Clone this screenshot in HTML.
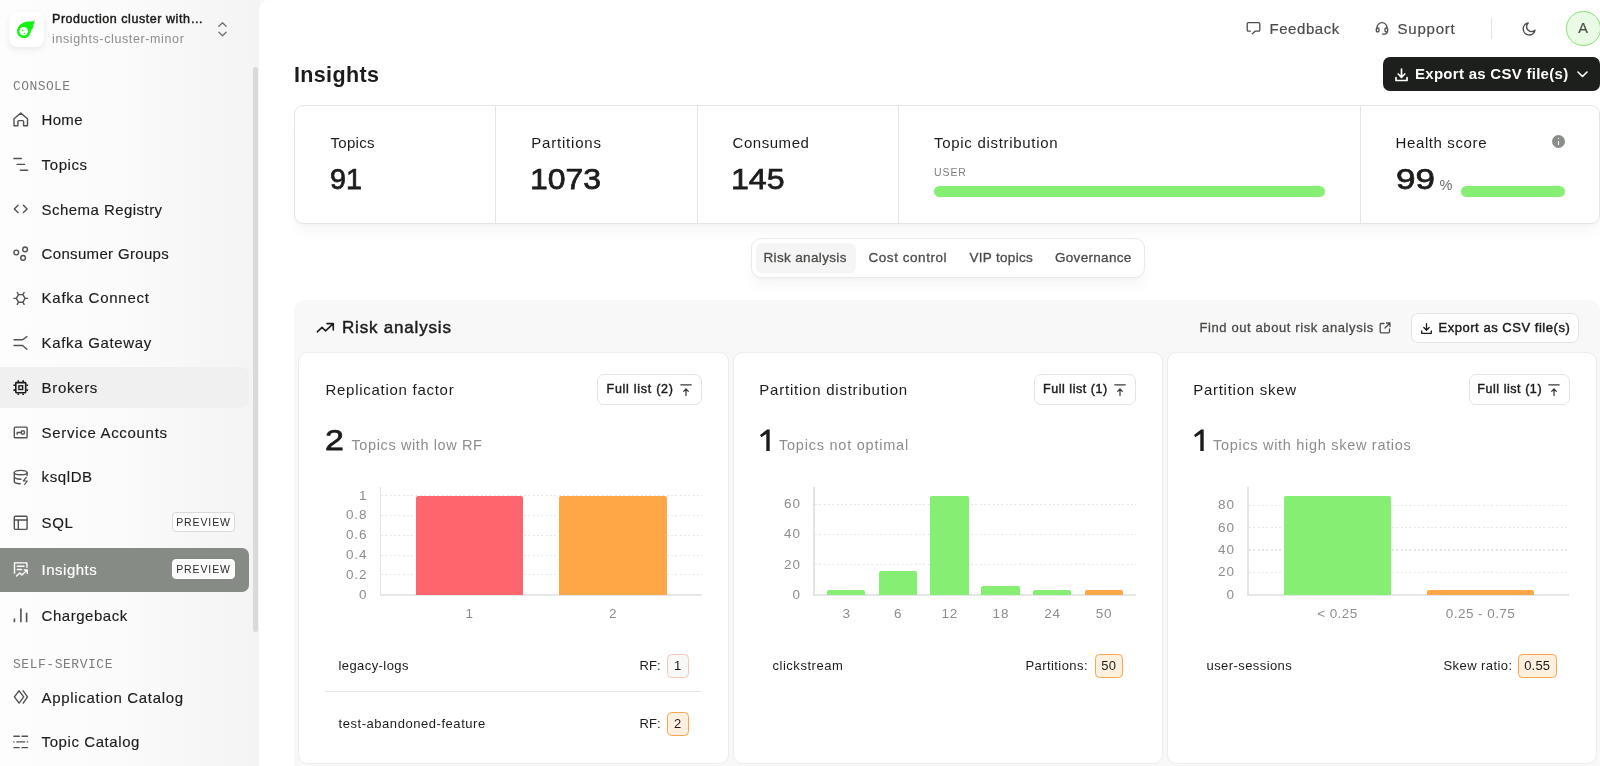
<!DOCTYPE html>
<html lang="en">
<head>
<meta charset="utf-8">
<title>Insights</title>
<style>
*{box-sizing:border-box;margin:0;padding:0}
html,body{width:1600px;height:766px;overflow:hidden}
body{font-family:"Liberation Sans",sans-serif;color:#1b1d1a;background:#f7f8f7;position:relative;-webkit-font-smoothing:antialiased}
.abs{position:absolute}
.t{position:absolute;white-space:nowrap;line-height:1}
svg{display:block;overflow:visible}
/* ---------- sidebar ---------- */
#side{position:absolute;left:0;top:0;width:260px;height:766px;background:linear-gradient(90deg,#fdfdfd 0%,#fbfbfb 45%,#f5f6f5 80%,#f3f4f3 100%)}
#sb{position:absolute;left:253px;top:67px;width:5px;height:565px;background:#d9dad9;border-radius:3px}
.nav{position:absolute;left:41.600px;-webkit-text-stroke:.15px;font-size:15px;letter-spacing:.35px;color:#1b1d1a;white-space:nowrap;line-height:1}
.ico{position:absolute;left:12px;width:17px;height:17px}
.ico svg{width:17px;height:17px;fill:none;stroke:#3a3d39;stroke-width:1.5;stroke-linecap:round;stroke-linejoin:round}
.sec{position:absolute;left:13px;font-family:"Liberation Mono",monospace;font-size:13px;letter-spacing:.42px;color:#7a7d79;line-height:1;white-space:nowrap}
.badge{position:absolute;left:172px;width:63px;height:20px;border:1px solid #d9dbd8;border-radius:4px;background:#fcfcfc;font-size:10.5px;letter-spacing:.9px;color:#2a2c29;text-align:center;line-height:18px}
/* ---------- main ---------- */
#main{position:absolute;left:259px;top:0;width:1341px;height:766px;background:#fff;border-top-left-radius:10px}

.hd{position:absolute;font-size:15px;color:#4a4d49;letter-spacing:.55px;white-space:nowrap;line-height:1;-webkit-text-stroke:.2px #4a4d49}
.si{fill:none;stroke:#4a4d49;stroke-width:1.4;stroke-linecap:round;stroke-linejoin:round;position:absolute}
#stats{position:absolute;left:294.400px;top:105px;width:1305.600px;height:118.500px;background:#fff;border:1px solid #e4e6e4;border-radius:9px;box-shadow:0 10px 16px -3px rgba(0,0,0,.04),0 3px 5px -1px rgba(0,0,0,.025)}
.vd{position:absolute;top:105px;width:1px;height:118px;background:#e4e6e4}
.sl{position:absolute;top:134.700px;font-size:15px;letter-spacing:.3px;color:#1b1d1a;white-space:nowrap;line-height:1}
.sn{position:absolute;top:164.200px;font-size:30px;letter-spacing:0;transform-origin:0 50%;color:#1b1d1a;white-space:nowrap;line-height:1;-webkit-text-stroke:.75px #1b1d1a}
.gbar{position:absolute;height:11px;border-radius:6px;background:#86ee72}
#tabs{position:absolute;left:750.500px;top:237.500px;width:394.500px;height:40.500px;background:#fff;border:1px solid #e9eae9;border-radius:10px;box-shadow:0 10px 16px -3px rgba(0,0,0,.04),0 3px 5px -1px rgba(0,0,0,.025)}
.tab{position:absolute;top:251px;font-size:13.500px;color:#4a4d49;white-space:nowrap;line-height:1;-webkit-text-stroke:.3px #4a4d49}

#panel{position:absolute;left:294px;top:300px;width:1306px;height:480px;background:#f7f8f7;border-radius:11px}
.card{position:absolute;top:352px;height:412px;background:#fff;border:1px solid #ebedec;border-radius:9.500px}
.ct{position:absolute;top:381.800px;font-size:15px;letter-spacing:.3px;color:#1b1d1a;white-space:nowrap;line-height:1}
.big{position:absolute;top:425px;font-size:30px;transform-origin:0 50%;color:#1b1d1a;white-space:nowrap;line-height:1;-webkit-text-stroke:.75px #1b1d1a}
.sub{position:absolute;top:438px;font-size:14.500px;letter-spacing:.35px;color:#8b8e8a;white-space:nowrap;line-height:1}
.btn{position:absolute;top:374px;height:30.500px;background:#fff;border:1px solid #e2e4e2;border-radius:7px}
.bt{position:absolute;font-size:12.500px;color:#1b1d1a;white-space:nowrap;line-height:1;-webkit-text-stroke:.45px #1b1d1a;letter-spacing:.3px}
.ax{position:absolute;font-size:13.500px;letter-spacing:.9px;color:#8b8e8a;white-space:nowrap;line-height:1}
.ay{text-align:right;width:40px;margin-left:1.400px;margin-top:-.5px}
.axc{text-align:center;width:100px;margin-left:.45px}
.grid{position:absolute;height:1.200px;background:repeating-linear-gradient(90deg,#e6e8e6 0 2px,transparent 2px 4.330px)}
.yax{position:absolute;width:1.500px;background:#e3e4e3}
.xax{position:absolute;height:2px;background:#e6e8e7}
.bar{position:absolute;border-radius:2px 2px 0 0}
.li{position:absolute;font-size:13px;letter-spacing:.42px;color:#1b1d1a;white-space:nowrap;line-height:1}
.chip{position:absolute;height:23.600px;border-radius:4.500px;border:1px solid #fba54c;background:#feefdf;font-size:13px;color:#1b1d1a;text-align:center;line-height:21.600px;letter-spacing:.2px}
</style>
</head>
<body><div id="wrap" style="position:absolute;left:0;top:0;width:1600px;height:766px;will-change:transform">
<div id="side">
  <div class="abs" style="left:9px;top:11.500px;width:35px;height:35px;background:#fff;border-radius:8px;box-shadow:0 3px 6px rgba(0,0,0,.07),0 0 1px rgba(0,0,0,.05)"></div>
  <div class="t" style="left:52px;top:13.300px;font-size:12.500px;letter-spacing:.55px;color:#1b1d1a;-webkit-text-stroke:.45px #1b1d1a">Production cluster with…</div>
  <div class="t" style="left:52px;top:33.200px;font-size:12.500px;letter-spacing:.62px;color:#8b8e8a">insights-cluster-minor</div>
  <div class="sec" style="top:79.600px">CONSOLE</div>

  <!-- logo comet -->
  <svg class="abs" style="left:9px;top:11px;width:36px;height:36px" viewBox="9 11 36 36"><path d="M34.900 20.500C32.200 21.800 28.500 21.100 25.300 22.100 20.800 23.500 17 26.800 17.100 31.600 17.200 35.600 20.400 38.100 24 38.100 27.800 38.100 30.500 35.200 30.800 31.200 31.300 30.300 32.300 28.900 33.200 27.500 33.300 26.600 33.300 25.700 33.500 24.400 34.100 22.600 34.900 20.500Z" fill="#12f312"/><circle cx="23.700" cy="31.200" r="4.250" fill="#fff"/><path d="M21.900 29.400l1.900.9-1.700 1z" fill="#12f312"/><circle cx="24.400" cy="33.400" r=".6" fill="#12f312"/></svg>
  <svg class="abs" style="left:210px;top:15px;width:24px;height:28px;fill:none;stroke:#6e716d;stroke-width:1.300;stroke-linecap:round;stroke-linejoin:round" viewBox="210 15 24 28"><path d="M218.900 26.300L222.500 22.800 226.100 26.300M218.900 32.200L222.500 35.700 226.100 32.200"/></svg>
  <div class="abs" style="left:0;top:367px;width:249px;height:41px;background:#eff0ef;border-radius:0 8px 8px 0"></div>
  <div class="abs" style="left:0;top:548px;width:248.600px;height:43.500px;background:#868b85;border-radius:0 7px 7px 0"></div>
  <div class="nav" style="top:112.02px;letter-spacing:0.3px;color:#1b1d1a">Home</div>
  <div class="nav" style="top:156.77px;letter-spacing:0.6px;color:#1b1d1a">Topics</div>
  <div class="nav" style="top:201.57px;letter-spacing:0.45px;color:#1b1d1a">Schema Registry</div>
  <div class="nav" style="top:246.17px;letter-spacing:0.33px;color:#1b1d1a">Consumer Groups</div>
  <div class="nav" style="top:290.47px;letter-spacing:0.74px;color:#1b1d1a">Kafka Connect</div>
  <div class="nav" style="top:335.17px;letter-spacing:0.67px;color:#1b1d1a">Kafka Gateway</div>
  <div class="nav" style="top:380.27px;letter-spacing:0.67px;color:#1b1d1a">Brokers</div>
  <div class="nav" style="top:424.87px;letter-spacing:0.69px;color:#1b1d1a">Service Accounts</div>
  <div class="nav" style="top:469.37px;letter-spacing:0.6px;color:#1b1d1a">ksqlDB</div>
  <div class="nav" style="top:515.37px;letter-spacing:0.6px;color:#1b1d1a">SQL</div>
  <div class="nav" style="top:562.07px;letter-spacing:0.5px;color:#fff">Insights</div>
  <div class="nav" style="top:607.97px;letter-spacing:0.52px;color:#1b1d1a">Chargeback</div>
  <div class="nav" style="top:689.82px;letter-spacing:0.68px;color:#1b1d1a">Application Catalog</div>
  <div class="nav" style="top:733.82px;letter-spacing:0.58px;color:#1b1d1a">Topic Catalog</div>
  <div class="badge" style="top:512.100px">PREVIEW</div>
  <div class="badge" style="top:559.100px;border-color:#fff;background:#fbfbfb">PREVIEW</div>
  <div class="sec" style="top:657.700px;letter-spacing:.53px">SELF-SERVICE</div>
  <svg class="abs" style="left:0;top:100px;width:60px;height:666px;fill:none;stroke:#50534f;stroke-width:1.400;stroke-linecap:round;stroke-linejoin:round" viewBox="0 100 60 666">
    <!-- home -->
    <path d="M17.900 125.800H14V118.800L20.750 113.100 27.500 118.800V125.800H23.600V121.600a1 1 0 0 0-1-1H18.900a1 1 0 0 0-1 1Z"/>
    <!-- topics -->
    <path d="M13.900 158.500h7.400M17.200 164.400h7.300M20.400 170.200h7.200"/>
    <!-- schema -->
    <path d="M18 205.200L14.300 208.900 18 212.600M23.400 205.200L27.100 208.900 23.400 212.600"/>
    <!-- consumer groups -->
    <circle cx="16.300" cy="252.500" r="2.350"/><circle cx="25.100" cy="249.400" r="2.350"/><circle cx="23.100" cy="257.900" r="2.350"/>
    <!-- kafka connect -->
    <path d="M16.300 298.400L18.500 294.600H22.900L25.100 298.400 22.900 302.200H18.500ZM16.300 298.400H14M25.100 298.400H27.400M18.500 294.600L17.300 292.500M22.900 294.600L24.100 292.500M18.500 302.200L17.300 304.300M22.900 302.200L24.100 304.300" stroke-width="1.400"/>
    <!-- gateway -->
    <path d="M14 339.700H22.600L26.800 336.600M14 345.500H22.600L26.800 349.300"/>
    <!-- brokers -->
    <g stroke="#1b1d1a"><rect x="15.800" y="382.600" width="9.900" height="10.100" rx=".6" stroke-width="1.600"/><rect x="18.900" y="385.800" width="3.700" height="3.700" stroke-width="1.400" stroke-linejoin="miter"/><path d="M18.300 380.300v1.600M23.200 380.300v1.600M18.300 393.400v1.700M23.200 393.400v1.700M13.400 385.200h1.700M13.400 390.100h1.700M26.400 385.200h1.700M26.400 390.100h1.700" stroke-width="1.600" stroke-linecap="butt"/></g>
    <!-- service accounts -->
    <rect x="14.300" y="427.100" width="12.800" height="10.600" rx=".8"/><circle cx="22.800" cy="432.500" r="1.750"/><path d="M21 432.500H17.200V434.300"/>
    <!-- ksqldb -->
    <g stroke-width="1.400"><ellipse cx="20.700" cy="472.600" rx="6.400" ry="2.200"/><path d="M14.300 472.600V481.600C14.300 482.800 16.900 483.700 20.200 483.800M27.100 472.600V475.500M14.300 477.100C14.300 478.300 17.200 479.200 21 479.200"/><path d="M26.300 477.300L23.300 481H27.300L24.700 484.300" stroke-width="1.200"/></g>
    <!-- sql -->
    <rect x="14.300" y="516.300" width="12.800" height="13.100" rx="1"/><path d="M14.300 520H27.100M18.300 520V529.400"/>
    <!-- insights (white) -->
    <g stroke="#fff" stroke-width="1.400"><path d="M14.500 573.200V562.900H26.900V567.300"/><path d="M17.300 566.300H24M17.300 569.500H21.500"/><path d="M16.500 576L19.800 573 21.900 575 27 570.200M24.300 570H27.300V573.400"/></g>
    <!-- chargeback -->
    <path d="M14.400 618.400V622.200M20.900 608.600V622.200M26.600 612.700V622.200" stroke-linecap="butt" stroke-width="1.600"/>
    <!-- app catalog -->
    <path d="M19.100 690.800L14.400 696.900 19.100 703.100 23.700 696.900ZM23.200 690.800L27.500 696.900 23.200 703.100" stroke-width="1.400"/>
    <!-- topic catalog -->
    <path d="M13.900 736.200H19.300M22 736.200H27.500M13.700 741.900H14M16.900 741.900H24.600M27.300 741.900H27.600M13.900 747.600H19.300M22 747.600H27.500" stroke-width="1.400"/>
  </svg>
  <div id="sb"></div>
</div>
<div id="main">
</div>

<!-- ===== top header ===== -->
<svg class="si" style="left:1240px;top:15px;width:30px;height:26px;stroke-width:1.300" viewBox="1240 15 30 26"><path d="M1250.300 31.200H1248.400a1.200 1.200 0 0 1-1.200-1.200V23.800a1.200 1.200 0 0 1 1.200-1.200H1258.600a1.200 1.200 0 0 1 1.200 1.200V30a1.200 1.200 0 0 1-1.200 1.200H1255.200L1252.300 33.700"/></svg>
<div class="hd" style="left:1269.500px;top:20.600px">Feedback</div>
<svg class="si" style="left:1370px;top:15px;width:26px;height:26px;stroke-width:1.300" viewBox="1370 15 26 26"><path d="M1377 28.500V27.700a5 5 0 0 1 10 0V28.500"/><rect x="1376.300" y="27.900" width="2.700" height="4" rx="1.200"/><rect x="1385" y="27.900" width="2.700" height="4" rx="1.200"/><path d="M1387.200 31.900c0 1.600-1.400 2.300-4.600 2.300"/></svg>
<div class="hd" style="left:1397.500px;top:20.600px;letter-spacing:.78px">Support</div>
<div class="abs" style="left:1491px;top:17.500px;width:1px;height:21px;background:#e1e3e1"></div>
<svg class="si" style="left:1522px;top:21.500px;width:14px;height:14px" viewBox="0 0 14 14"><path d="M6.200 1A6 6 0 1 0 13 8.300 4.800 4.800 0 0 1 6.200 1z"/></svg>
<div class="abs" style="left:1566px;top:11px;width:34.500px;height:34.500px;border-radius:50%;background:#e9fae5;border:1px solid #86e674"></div>
<div class="hd" style="left:1578.200px;top:20.600px;letter-spacing:0;font-size:14.500px">A</div>

<!-- ===== title row ===== -->
<div class="t" style="left:294px;top:64.600px;font-size:21.500px;font-weight:bold;letter-spacing:.35px;color:#1b1d1a">Insights</div>
<div class="abs" style="left:1383px;top:56.700px;width:217px;height:34px;background:#1c1f1b;border-radius:7px"></div>
<svg class="abs" style="left:1395px;top:67.500px;width:13px;height:13.500px;fill:none;stroke:#fff;stroke-width:1.700;stroke-linecap:round;stroke-linejoin:round" viewBox="0 0 13 13.500"><path d="M6.500 1v8M3.200 6l3.300 3.300L9.800 6M1 9.500v3h11v-3"/></svg>
<div class="t" style="left:1415px;top:66.100px;font-size:15px;font-weight:bold;letter-spacing:.28px;color:#fff">Export as CSV file(s)</div>
<svg class="abs" style="left:1576.500px;top:70.900px;width:11px;height:7px;fill:none;stroke:#fff;stroke-width:1.600;stroke-linecap:round;stroke-linejoin:round" viewBox="0 0 11 7"><path d="M1 1l4.500 4.500L10 1"/></svg>

<!-- ===== stats card ===== -->
<div id="stats"></div>
<div class="vd" style="left:495px"></div><div class="vd" style="left:697px"></div><div class="vd" style="left:898px"></div><div class="vd" style="left:1360px"></div>
<div class="sl" style="left:330.500px">Topics</div><div class="sn" style="left:330.400px;transform:scaleX(.96)">91</div>
<div class="sl" style="left:531.200px;letter-spacing:.8px">Partitions</div><div class="sn" style="left:530px;transform:scaleX(1.065)">1073</div>
<div class="sl" style="left:732.500px;letter-spacing:.55px">Consumed</div><div class="sn" style="left:731px;transform:scaleX(1.07)">145</div>
<div class="sl" style="left:934px;letter-spacing:.7px">Topic distribution</div>
<div class="t" style="left:934px;top:166.500px;font-size:10.500px;letter-spacing:.9px;color:#7d807c">USER</div>
<div class="gbar" style="left:934px;top:186.200px;width:391px"></div>
<div class="sl" style="left:1395.500px;letter-spacing:.62px">Health score</div>
<div class="abs" style="left:1552px;top:135px;width:13.200px;height:13.200px;border-radius:50%;background:#8a8d89"></div>
<div class="abs" style="left:1557.900px;top:137.800px;width:1.500px;height:1.700px;background:#fff"></div>
<div class="abs" style="left:1557.900px;top:140.600px;width:1.500px;height:4.800px;background:#fff"></div>
<div class="sn" style="left:1396.100px;transform:scaleX(1.17)">99</div>
<div class="t" style="left:1439.500px;top:178px;font-size:14.500px;color:#6b6e6a">%</div>
<div class="gbar" style="left:1461px;top:186.200px;width:103.500px"></div>

<!-- ===== tabs ===== -->
<div id="tabs"></div>
<div class="abs" style="left:755.500px;top:243px;width:100px;height:30px;background:#f4f5f4;border-radius:6px"></div>
<div class="tab" style="left:763.500px;letter-spacing:.35px">Risk analysis</div>
<div class="tab" style="left:868.500px;letter-spacing:.55px">Cost control</div>
<div class="tab" style="left:969.500px;letter-spacing:.3px">VIP topics</div>
<div class="tab" style="left:1055px;letter-spacing:.3px">Governance</div>

<!-- ===== risk panel ===== -->
<div id="panel"></div>
<svg class="abs" style="left:310px;top:315px;width:30px;height:24px;fill:none;stroke:#1b1d1a;stroke-width:1.600;stroke-linecap:round;stroke-linejoin:round" viewBox="310 315 30 24"><path d="M317.300 331.800L322 327.400 325.600 330.800 333 323.900M327 323.600H333.300V329.900"/></svg>
<div class="t" style="left:342px;top:319px;font-size:17px;letter-spacing:.81px;color:#1b1d1a;-webkit-text-stroke:.45px #1b1d1a">Risk analysis</div>
<div class="t" style="left:1199.500px;top:320.800px;font-size:13px;letter-spacing:.6px;color:#4a4d49;-webkit-text-stroke:.3px #4a4d49">Find out about risk analysis</div>
<svg class="abs" style="left:1378.800px;top:321.700px;width:12px;height:12px;fill:none;stroke:#4a4d49;stroke-width:1.300;stroke-linecap:round;stroke-linejoin:round" viewBox="0 0 12 12"><path d="M5 1.500H2.200a1 1 0 0 0-1 1v7.300a1 1 0 0 0 1 1h7.300a1 1 0 0 0 1-1V7M7.500 1h3.500v3.500M11 1L6 6"/></svg>
<div class="abs" style="left:1411px;top:312.500px;width:168px;height:30px;background:#fff;border:1px solid #e2e4e2;border-radius:7px"></div>
<svg class="abs" style="left:1421px;top:322.500px;width:11px;height:11px;fill:none;stroke:#1b1d1a;stroke-width:1.300;stroke-linecap:round;stroke-linejoin:round" viewBox="0 0 11 11"><path d="M5.500 .7v6.300M2.800 4.500l2.700 2.700 2.700-2.700M.7 8v2.300h9.600V8"/></svg>
<div class="bt" style="left:1438.500px;top:321px;font-size:13px;letter-spacing:.53px">Export as CSV file(s)</div>

<!-- card 1 -->
<div class="card" style="left:298px;width:431px"></div>
<div class="ct" style="left:325.500px;letter-spacing:.72px">Replication factor</div>
<div class="btn" style="left:597px;width:105px"></div><div class="bt" style="left:606.600px;top:383.300px;letter-spacing:.72px">Full list (2)</div><svg class="abs" style="left:675.5px;top:378px;width:20px;height:24px;fill:none;stroke:#3a3d39;stroke-width:1.250;stroke-linecap:round;stroke-linejoin:round" viewBox="675.5 378 20 24"><path d="M680.30 384.800H690.70M685.50 395.500V389.200M683.20 391.400L685.50 389L687.80 391.400"/></svg>
<div class="big" style="left:325px;transform:scaleX(1.13)">2</div><div class="sub" style="left:351.500px;letter-spacing:.61px">Topics with low RF</div>
<div class="ax ay" style="left:326px;top:489.0px">1</div><div class="ax ay" style="left:326px;top:508.8px">0.8</div><div class="ax ay" style="left:326px;top:528.7px">0.6</div><div class="ax ay" style="left:326px;top:548.6px">0.4</div><div class="ax ay" style="left:326px;top:568.4px">0.2</div><div class="ax ay" style="left:326px;top:588.3px">0</div><div class="grid" style="left:381px;top:494.9px;width:321px"></div><div class="grid" style="left:381px;top:514.7px;width:321px"></div><div class="grid" style="left:381px;top:534.6px;width:321px"></div><div class="grid" style="left:381px;top:554.5px;width:321px"></div><div class="grid" style="left:381px;top:574.3px;width:321px"></div>
<div class="yax" style="left:379.700px;top:487px;height:108.500px"></div><div class="xax" style="left:379.700px;top:593.800px;width:322.300px"></div>
<div class="bar" style="left:416px;top:495.8px;width:107.4px;height:98.8px;background:#fe656c"></div><div class="bar" style="left:559.1px;top:495.8px;width:107.5px;height:98.8px;background:#ffa646"></div><div class="ax axc" style="left:419.4px;top:607.400px">1</div><div class="ax axc" style="left:562.9px;top:607.400px">2</div>
<div class="li" style="left:338.500px;top:659.300px">legacy-logs</div><div class="li" style="left:639.500px;top:659.300px;letter-spacing:.1px">RF:</div>
<div class="chip" style="left:667px;top:654.100px;width:21.500px;border-color:#f8c8bf;background:#f8f8f7">1</div>
<div class="abs" style="left:325px;top:691.200px;width:377px;height:1px;background:#e6e7e6"></div>
<div class="li" style="left:338.500px;top:716.900px;letter-spacing:.55px">test-abandoned-feature</div><div class="li" style="left:639.500px;top:716.900px;letter-spacing:.1px">RF:</div>
<div class="chip" style="left:667px;top:712px;width:21.500px">2</div>

<!-- card 2 -->
<div class="card" style="left:733px;width:430px"></div>
<div class="ct" style="left:759.300px;letter-spacing:.77px">Partition distribution</div>
<div class="btn" style="left:1034px;width:101.500px"></div><div class="bt" style="left:1043px;top:383.300px;letter-spacing:.55px">Full list (1)</div><svg class="abs" style="left:1109.8px;top:378px;width:20px;height:24px;fill:none;stroke:#3a3d39;stroke-width:1.250;stroke-linecap:round;stroke-linejoin:round" viewBox="1109.8 378 20 24"><path d="M1114.60 384.800H1125.00M1119.80 395.500V389.200M1117.50 391.400L1119.80 389L1122.10 391.400"/></svg>
<svg class="abs" style="left:759.9px;top:429px;width:12px;height:24px" viewBox="0 0 12 24"><path d="M9.700 .6V21.900H6.300V5L1.300 8.300 0 5.900 7.100 .6Z" fill="#1b1d1a"/></svg><div class="sub" style="left:779px;letter-spacing:.77px">Topics not optimal</div>
<div class="ax ay" style="left:759.5px;top:497.6px">60</div><div class="ax ay" style="left:759.5px;top:527.8px">40</div><div class="ax ay" style="left:759.5px;top:558.0px">20</div><div class="ax ay" style="left:759.5px;top:588.3px">0</div><div class="grid" style="left:815px;top:503.5px;width:320.70000000000005px"></div><div class="grid" style="left:815px;top:533.7px;width:320.70000000000005px"></div><div class="grid" style="left:815px;top:563.9px;width:320.70000000000005px"></div>
<div class="yax" style="left:813.200px;top:487px;height:108.500px"></div><div class="xax" style="left:813.200px;top:593.800px;width:322.500px"></div>
<div class="bar" style="left:827.1px;top:589.8px;width:38.4px;height:4.8px;background:#86ee72"></div><div class="bar" style="left:878.7px;top:571.0px;width:38.3px;height:23.6px;background:#86ee72"></div><div class="bar" style="left:930.2px;top:496.0px;width:38.4px;height:98.6px;background:#86ee72"></div><div class="bar" style="left:981.4px;top:586.3px;width:38.4px;height:8.3px;background:#86ee72"></div><div class="bar" style="left:1033px;top:589.8px;width:38.3px;height:4.8px;background:#86ee72"></div><div class="bar" style="left:1084.5px;top:589.8px;width:38.4px;height:4.8px;background:#ffa646"></div><div class="ax axc" style="left:796.3px;top:607.400px">3</div><div class="ax axc" style="left:847.9px;top:607.400px">6</div><div class="ax axc" style="left:899.4px;top:607.400px">12</div><div class="ax axc" style="left:950.6px;top:607.400px">18</div><div class="ax axc" style="left:1002.2px;top:607.400px">24</div><div class="ax axc" style="left:1053.7px;top:607.400px">50</div>
<div class="li" style="left:772.500px;top:659.300px;letter-spacing:.52px">clickstream</div><div class="li" style="left:1025.500px;top:659.300px">Partitions:</div>
<div class="chip" style="left:1094.700px;top:654.100px;width:28px">50</div>

<!-- card 3 -->
<div class="card" style="left:1166.500px;width:430px"></div>
<div class="ct" style="left:1193.200px;letter-spacing:.73px">Partition skew</div>
<div class="btn" style="left:1469px;width:101px"></div><div class="bt" style="left:1477.300px;top:383.300px;letter-spacing:.55px">Full list (1)</div><svg class="abs" style="left:1543.8px;top:378px;width:20px;height:24px;fill:none;stroke:#3a3d39;stroke-width:1.250;stroke-linecap:round;stroke-linejoin:round" viewBox="1543.8 378 20 24"><path d="M1548.60 384.800H1559.00M1553.80 395.500V389.200M1551.50 391.400L1553.80 389L1556.10 391.400"/></svg>
<svg class="abs" style="left:1193.8px;top:429px;width:12px;height:24px" viewBox="0 0 12 24"><path d="M9.700 .6V21.900H6.300V5L1.300 8.300 0 5.900 7.100 .6Z" fill="#1b1d1a"/></svg><div class="sub" style="left:1213px;letter-spacing:.7px">Topics with high skew ratios</div>
<div class="ax ay" style="left:1193.5px;top:498.8px">80</div><div class="ax ay" style="left:1193.5px;top:521.2px">60</div><div class="ax ay" style="left:1193.5px;top:543.5px">40</div><div class="ax ay" style="left:1193.5px;top:565.9px">20</div><div class="ax ay" style="left:1193.5px;top:588.3px">0</div><div class="grid" style="left:1249px;top:504.7px;width:320px"></div><div class="grid" style="left:1249px;top:527.1px;width:320px"></div><div class="grid" style="left:1249px;top:549.4px;width:320px"></div><div class="grid" style="left:1249px;top:571.8px;width:320px"></div>
<div class="yax" style="left:1247.200px;top:487px;height:108.500px"></div><div class="xax" style="left:1247.200px;top:593.800px;width:322px"></div>
<div class="bar" style="left:1283.9px;top:496.0px;width:106.7px;height:98.6px;background:#86ee72"></div><div class="bar" style="left:1427px;top:590.3px;width:107.1px;height:4.3px;background:#ffa646"></div><div class="ax axc" style="left:1287px;top:607.400px;letter-spacing:.45px">&lt; 0.25</div><div class="ax axc" style="left:1430.1px;top:607.400px;letter-spacing:.45px">0.25 - 0.75</div>
<div class="li" style="left:1206.500px;top:659.300px">user-sessions</div><div class="li" style="left:1443.500px;top:659.300px">Skew ratio:</div>
<div class="chip" style="left:1518px;top:654.100px;width:38.500px">0.55</div>
</div></body>
</html>
